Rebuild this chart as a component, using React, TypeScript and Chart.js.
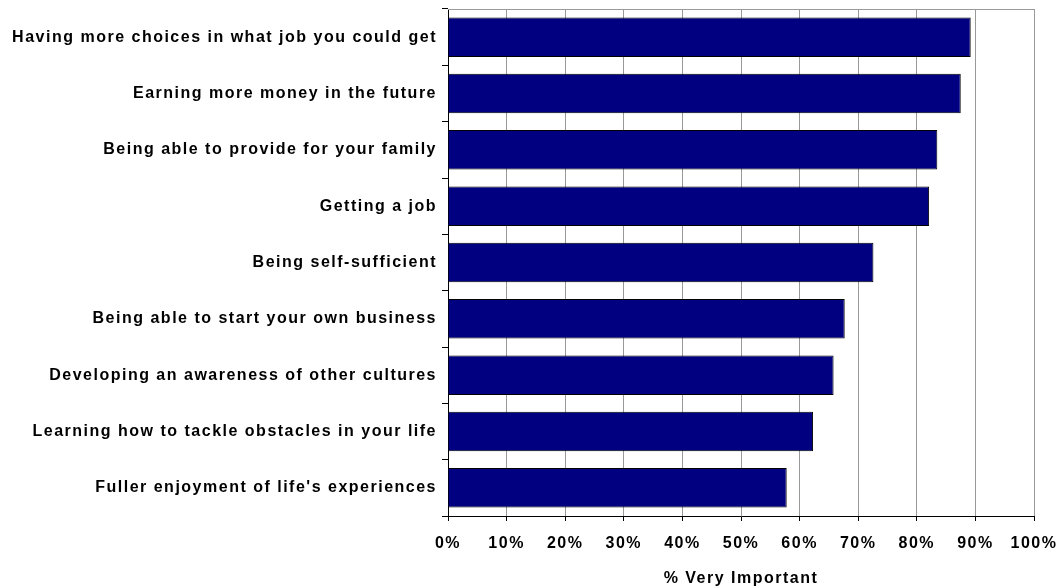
import React, { useEffect, useRef } from "react";
import { Chart, registerables } from "chart.js";

Chart.register(...registerables);

const categories: string[] = [
  "Having more choices in what job you could get",
  "Earning more money in the future",
  "Being able to provide for your family",
  "Getting a job",
  "Being self-sufficient",
  "Being able to start your own business",
  "Developing an awareness of other cultures",
  "Learning how to tackle obstacles in your life",
  "Fuller enjoyment of life's experiences",
];

const veryImportant: number[] = [89.2, 87.5, 83.5, 82.1, 72.6, 67.7, 65.8, 62.3, 57.8];

const xTickValues: number[] = [0, 10, 20, 30, 40, 50, 60, 70, 80, 90, 100];
const xTitle = "% Very Important";

const FONT = "'Liberation Sans', Arial, Helvetica, sans-serif";
const LS = "1.5px";

const spacingPlugin = {
  id: "spacing",
  beforeLayout(chart: any) {
    chart.ctx.letterSpacing = LS;
  },
  beforeDraw(chart: any) {
    chart.ctx.letterSpacing = LS;
  },
  afterDraw(chart: any) {
    const { ctx, chartArea } = chart;
    ctx.save();
    ctx.strokeStyle = "#999999";
    ctx.lineWidth = 1;
    ctx.beginPath();
    const y = Math.round(chartArea.top) + 0.5;
    ctx.moveTo(chartArea.left, y);
    ctx.lineTo(chartArea.right + 0.5, y);
    ctx.stroke();
    ctx.restore();
  },
};

export default function App() {
  const ref = useRef<HTMLCanvasElement | null>(null);
  useEffect(() => {
    if (!ref.current) return;
    const chart = new Chart(ref.current, {
      type: "bar",
      data: {
        labels: categories,
        datasets: [
          {
            data: veryImportant,
            backgroundColor: "#000080",
            borderColor: "#000000",
            borderWidth: 1,
            barPercentage: 0.7,
            categoryPercentage: 1,
          },
        ],
      },
      plugins: [spacingPlugin],
      options: {
        indexAxis: "y",
        animation: false,
        responsive: false,
        layout: { padding: { top: 9, right: 30, bottom: 0, left: 0 } },
        plugins: { legend: { display: false }, tooltip: { enabled: false } },
        scales: {
          x: {
            min: 0,
            max: 100,
            afterBuildTicks(scale: any) {
              scale.ticks = xTickValues.map((v) => ({ value: v }));
            },
            afterFit(scale: any) {
              scale.height = 72;
              scale.paddingLeft = 0;
              scale.paddingRight = 0;
            },
            ticks: {
              callback: (v: any) => v + "%",
              color: "#000000",
              font: { family: FONT, size: 16, weight: "bold" },
              padding: 13,
              maxRotation: 0,
              autoSkip: false,
            },
            grid: {
              color: "#999999",
              tickColor: "#000000",
              tickLength: 5,
              lineWidth: 1,
            },
            border: { color: "#000000", width: 1 },
            title: {
              display: true,
              text: xTitle,
              color: "#000000",
              font: { family: FONT, size: 16, weight: "bold" },
              padding: { top: 0, bottom: 0 },
            },
          },
          y: {
            afterFit(scale: any) {
              scale.width = 448;
              scale.paddingTop = 0;
              scale.paddingBottom = 0;
            },
            ticks: {
              color: "#000000",
              font: { family: FONT, size: 16, weight: "bold" },
              padding: 5,
              autoSkip: false,
            },
            grid: {
              offset: true,
              drawOnChartArea: false,
              drawTicks: true,
              tickLength: 6,
              color: "#000000",
              tickColor: "#000000",
            },
            border: { color: "#000000", width: 1 },
          },
        },
      },
    });
    return () => chart.destroy();
  }, []);
  return (
    <div style={{ position: "absolute", left: 0, top: 0, width: 1064, height: 588 }}>
      <canvas ref={ref} width={1064} height={588} />
    </div>
  );
}
